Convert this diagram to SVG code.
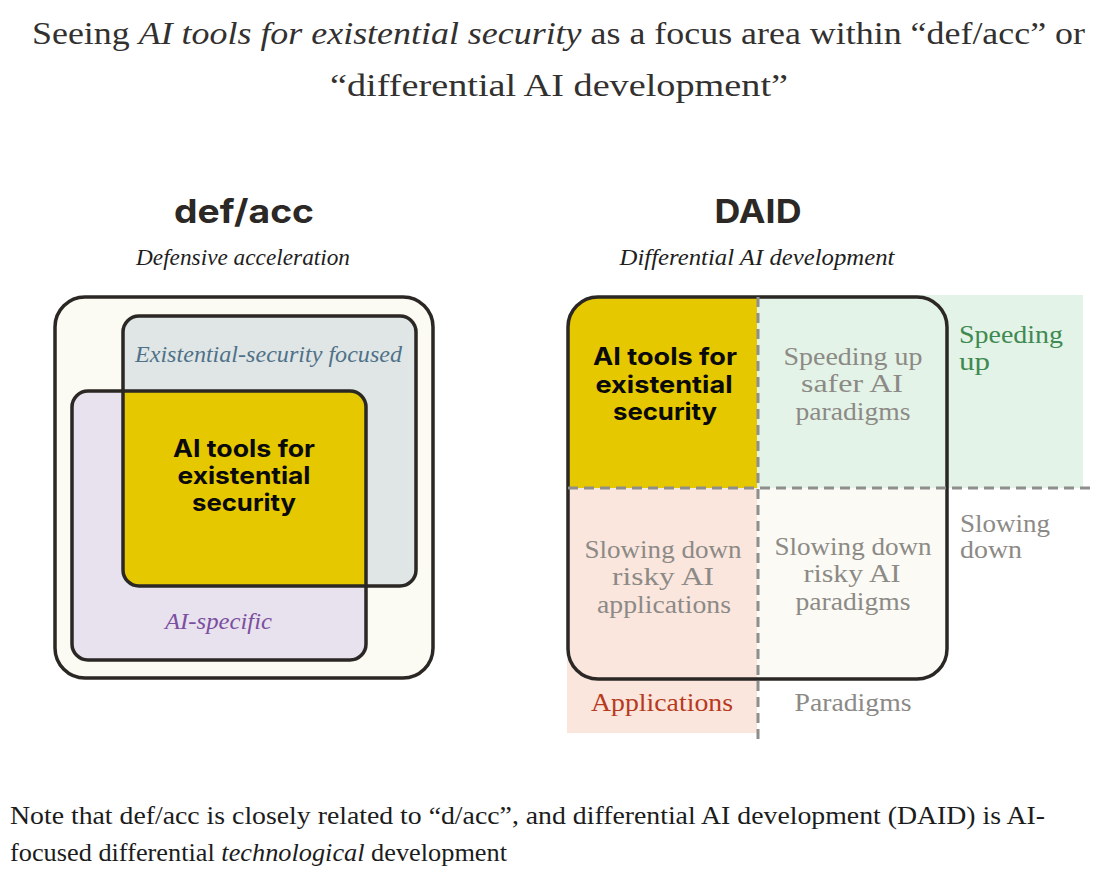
<svg xmlns="http://www.w3.org/2000/svg" width="1118" height="876" viewBox="0 0 1118 876">
<defs>
<style>
.serif{font-family:"Liberation Serif","DejaVu Serif",serif;}
.sans{font-family:Inter,"Liberation Sans",sans-serif;font-weight:700;}
.title{font-size:32px;fill:#333130;}
.note{font-size:26px;fill:#1c1c1c;}
.head{font-size:33px;fill:#2b2825;}
.sub{font-size:24px;font-style:italic;fill:#1e1e1e;}
.box{stroke:#2b2724;stroke-width:3.5;}
.bold{font-size:24px;fill:#0a0a0a;text-anchor:middle;}
.grey{font-size:25px;fill:#8c8a86;text-anchor:middle;}
.dash{stroke:#8e8e8c;stroke-width:3;stroke-dasharray:10 6;fill:none;}
</style>
<clipPath id="clipExist"><rect x="123" y="316" width="293" height="270" rx="16"/></clipPath>
</defs>
<rect width="1118" height="876" fill="#ffffff"/>

<g id="title">
<text class="serif title" x="32" y="44" textLength="1053" lengthAdjust="spacingAndGlyphs">Seeing <tspan font-style="italic">AI tools for existential security</tspan> as a focus area within “def/acc” or</text>
<text class="serif title" x="559" y="96" text-anchor="middle" textLength="458" lengthAdjust="spacingAndGlyphs">“differential AI development”</text>
</g>

<g id="defacc-heading">
<text class="sans head" x="244" y="223" text-anchor="middle" textLength="140" lengthAdjust="spacingAndGlyphs">def/acc</text>
<text class="serif sub" x="243" y="265" text-anchor="middle" textLength="214" lengthAdjust="spacingAndGlyphs">Defensive acceleration</text>
</g>

<g id="daid-heading">
<text class="sans head" x="758" y="223" text-anchor="middle" textLength="87" lengthAdjust="spacingAndGlyphs">DAID</text>
<text class="serif sub" x="757" y="265" text-anchor="middle" textLength="275" lengthAdjust="spacingAndGlyphs">Differential AI development</text>
</g>

<!-- Left diagram -->
<g id="defacc-outer">
<rect class="box" x="55" y="297" width="378" height="381" rx="30" fill="#fbfaf3"/>
</g>
<g id="existential-security-focused">
<rect x="123" y="316" width="293" height="270" rx="16" fill="#dfe6e5"/>
</g>
<g id="ai-specific">
<rect x="72" y="391" width="294" height="269" rx="16" fill="#e8e2ee"/>
</g>
<g id="ai-tools-left">
<rect x="72" y="391" width="294" height="269" rx="16" fill="#e6c800" clip-path="url(#clipExist)"/>
</g>
<g id="left-outlines">
<rect class="box" x="123" y="316" width="293" height="270" rx="16" fill="none"/>
<rect class="box" x="72" y="391" width="294" height="269" rx="16" fill="none"/>
</g>
<g id="left-labels">
<text class="serif" x="268.5" y="362" font-size="24" font-style="italic" fill="#4f7189" text-anchor="middle" textLength="267" lengthAdjust="spacingAndGlyphs">Existential-security focused</text>
<text class="serif" x="218.5" y="629" font-size="24" font-style="italic" fill="#7b4fa0" text-anchor="middle" textLength="107" lengthAdjust="spacingAndGlyphs">AI-specific</text>
<text class="sans bold" x="244" y="457" textLength="142" lengthAdjust="spacingAndGlyphs">AI tools for</text>
<text class="sans bold" x="244" y="484" textLength="133" lengthAdjust="spacingAndGlyphs">existential</text>
<text class="sans bold" x="244" y="511" textLength="104" lengthAdjust="spacingAndGlyphs">security</text>
</g>

<!-- Right diagram -->
<g id="daid-frame-fill">
<rect x="568" y="297" width="379" height="382" rx="30" fill="#fbfaf4"/>
</g>
<g id="speeding-up-band">
<rect x="757" y="295" width="326" height="193" fill="#e4f3e7"/>
<text class="serif" x="959" y="343" font-size="25" fill="#3f8a52" textLength="104" lengthAdjust="spacingAndGlyphs">Speeding</text>
<text class="serif" x="959" y="370" font-size="25" fill="#3f8a52" textLength="31" lengthAdjust="spacingAndGlyphs">up</text>
</g>
<g id="applications-band">
<rect x="567" y="488" width="190" height="245" fill="#fbe6de"/>
<text class="serif" x="662" y="711" font-size="25" fill="#b83a1c" text-anchor="middle" textLength="142" lengthAdjust="spacingAndGlyphs">Applications</text>
</g>
<g id="ai-tools-right">
<path d="M757 297 L757 488 L568 488 L568 327 A30 30 0 0 1 598 297 Z" fill="#e6c800"/>
<text class="sans bold" x="665" y="365" textLength="144" lengthAdjust="spacingAndGlyphs">AI tools for</text>
<text class="sans bold" x="664" y="393" textLength="137" lengthAdjust="spacingAndGlyphs">existential</text>
<text class="sans bold" x="665" y="420" textLength="104" lengthAdjust="spacingAndGlyphs">security</text>
</g>
<g id="daid-frame">
<rect class="box" x="568" y="297" width="379" height="382" rx="30" fill="none"/>
</g>
<g id="dividers">
<line class="dash" x1="758" y1="297" x2="758" y2="741"/>
<line class="dash" x1="568" y1="488" x2="1094" y2="488"/>
</g>
<g id="speeding-up-safer-paradigms">
<text class="serif grey" x="853" y="365" textLength="139" lengthAdjust="spacingAndGlyphs">Speeding up</text>
<text class="serif grey" x="852" y="392" textLength="102" lengthAdjust="spacingAndGlyphs">safer AI</text>
<text class="serif grey" x="853" y="420" textLength="115" lengthAdjust="spacingAndGlyphs">paradigms</text>
</g>
<g id="slowing-down-risky-applications">
<text class="serif grey" x="663" y="558" textLength="157" lengthAdjust="spacingAndGlyphs">Slowing down</text>
<text class="serif grey" x="663" y="585" textLength="102" lengthAdjust="spacingAndGlyphs">risky AI</text>
<text class="serif grey" x="664" y="613" textLength="134" lengthAdjust="spacingAndGlyphs">applications</text>
</g>
<g id="slowing-down-risky-paradigms">
<text class="serif grey" x="853" y="555" textLength="157" lengthAdjust="spacingAndGlyphs">Slowing down</text>
<text class="serif grey" x="852" y="582" textLength="97" lengthAdjust="spacingAndGlyphs">risky AI</text>
<text class="serif grey" x="853" y="610" textLength="115" lengthAdjust="spacingAndGlyphs">paradigms</text>
</g>
<g id="side-labels">
<text class="serif" x="960" y="532" font-size="25" fill="#8c8a86" textLength="90" lengthAdjust="spacingAndGlyphs">Slowing</text>
<text class="serif" x="960" y="558" font-size="25" fill="#8c8a86" textLength="62" lengthAdjust="spacingAndGlyphs">down</text>
<text class="serif grey" x="853" y="711" textLength="117" lengthAdjust="spacingAndGlyphs">Paradigms</text>
</g>

<g id="footnote">
<text class="serif note" x="10" y="824" textLength="1035" lengthAdjust="spacingAndGlyphs">Note that def/acc is closely related to “d/acc”, and differential AI development (DAID) is AI-</text>
<text class="serif note" x="10" y="861" textLength="497" lengthAdjust="spacingAndGlyphs">focused differential <tspan font-style="italic">technological</tspan> development</text>
</g>
</svg>
